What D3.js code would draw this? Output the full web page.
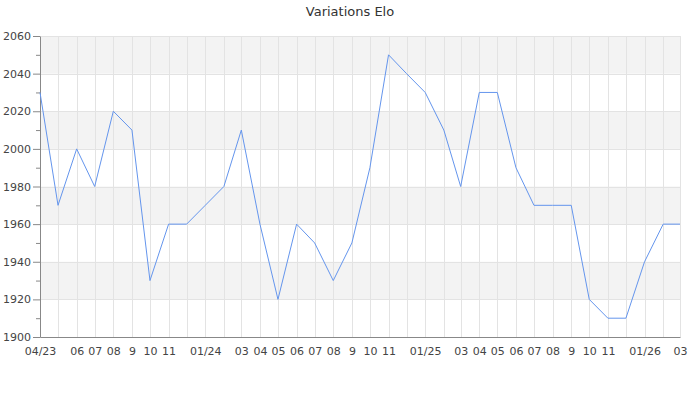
<!DOCTYPE html>
<html lang="fr">
<head>
<meta charset="utf-8">
<title>Variations Elo</title>
<style>
	body { margin: 0; background: #fff; }
	svg { display: block; font-family: "DejaVu Sans", sans-serif; }
</style>
</head>
<body>
<script src="https://cdn.jsdelivr.net/npm/d3@7"></script>
<script>
	// one point per month, April 2023 to March 2026
	const months = [
		"2023-04", "2023-05", "2023-06", "2023-07", "2023-08", "2023-09", "2023-10", "2023-11", "2023-12",
		"2024-01", "2024-02", "2024-03", "2024-04", "2024-05", "2024-06", "2024-07", "2024-08", "2024-09",
		"2024-10", "2024-11", "2024-12", "2025-01", "2025-02", "2025-03", "2025-04", "2025-05", "2025-06",
		"2025-07", "2025-08", "2025-09", "2025-10", "2025-11", "2025-12", "2026-01", "2026-02", "2026-03"
	];
	const elo = [
		2030, 1970, 2000, 1980, 2020, 2010, 1930, 1960, 1960,
		1970, 1980, 2010, 1960, 1920, 1960, 1950, 1930, 1950,
		1990, 2050, 2040, 2030, 2010, 1980, 2030, 2030, 1990,
		1970, 1970, 1970, 1920, 1910, 1910, 1940, 1960, 1960
	];
	// labels shown under the axis (others are hidden for lack of room)
	const tickLabels = {
		"2023-04": "04/23", "2023-06": "06", "2023-07": "07", "2023-08": "08", "2023-09": "9",
		"2023-10": "10", "2023-11": "11", "2024-01": "01/24", "2024-03": "03", "2024-04": "04",
		"2024-05": "05", "2024-06": "06", "2024-07": "07", "2024-08": "08", "2024-09": "9",
		"2024-10": "10", "2024-11": "11", "2025-01": "01/25", "2025-03": "03", "2025-04": "04",
		"2025-05": "05", "2025-06": "06", "2025-07": "07", "2025-08": "08", "2025-09": "9",
		"2025-10": "10", "2025-11": "11", "2026-01": "01/26", "2026-03": "03"
	};
	const yTicks = [1900, 1920, 1940, 1960, 1980, 2000, 2020, 2040, 2060];
	const yMinor = [1910, 1930, 1950, 1970, 1990, 2010, 2030, 2050];

	const width = 700, height = 400;
	const margin = { top: 36, right: 20, bottom: 63, left: 40 };
	const parse = d3.utcParse("%Y-%m");
	const data = months.map((m, i) => ({ key: m, date: parse(m), value: elo[i] }));

	const x = d3.scaleUtc()
		.domain(d3.extent(data, d => d.date))
		.range([margin.left, width - margin.right]);
	const y = d3.scaleLinear()
		.domain([1900, 2060])
		.range([height - margin.bottom, margin.top]);

	const svg = d3.select("body").append("svg")
		.attr("width", width)
		.attr("height", height);

	// alternating bands
	svg.append("g")
		.selectAll("rect")
		.data(d3.pairs(yTicks).filter((p, i) => i % 2 === 1))
		.join("rect")
		.attr("x", margin.left)
		.attr("width", width - margin.right - margin.left)
		.attr("y", d => y(d[1]))
		.attr("height", d => y(d[0]) - y(d[1]))
		.attr("fill", "#f3f3f3");

	// grid
	const grid = svg.append("g")
		.attr("stroke", "#e3e3e3")
		.attr("shape-rendering", "crispEdges");
	grid.selectAll(".v")
		.data(data)
		.join("line")
		.attr("x1", d => Math.round(x(d.date)) + 0.5)
		.attr("x2", d => Math.round(x(d.date)) + 0.5)
		.attr("y1", y(2060))
		.attr("y2", y(1900));
	grid.selectAll(".h")
		.data(yTicks)
		.join("line")
		.attr("x1", margin.left)
		.attr("x2", width - margin.right)
		.attr("y1", d => Math.round(y(d)) + 0.5)
		.attr("y2", d => Math.round(y(d)) + 0.5);

	// y axis
	const yAxis = svg.append("g")
		.attr("transform", `translate(${margin.left},0)`)
		.call(d3.axisLeft(y).tickValues(yTicks).tickFormat(d3.format("d"))
			.tickSize(7).tickSizeOuter(0).tickPadding(2));
	yAxis.append("g")
		.call(d3.axisLeft(y).tickValues(yMinor).tickSize(4).tickSizeOuter(0).tickFormat(""))
		.select(".domain").remove();
	yAxis.selectAll("path, line").attr("stroke", "#888");
	yAxis.selectAll("text")
		.attr("fill", "#444")
		.attr("font-size", 11)
		.attr("font-family", "DejaVu Sans");

	// x axis
	const xAxis = svg.append("g")
		.attr("transform", `translate(0,${height - margin.bottom})`)
		.call(d3.axisBottom(x)
			.tickValues(data.map(d => d.date))
			.tickSize(0)
			.tickSizeOuter(0)
			.tickPadding(10)
			.tickFormat(d => tickLabels[d3.utcFormat("%Y-%m")(d)] || ""));
	xAxis.select(".domain").attr("stroke", "#888");
	xAxis.selectAll("text")
		.attr("fill", "#444")
		.attr("font-size", 11)
		.attr("font-family", "DejaVu Sans");

	// line
	svg.append("path")
		.datum(data)
		.attr("fill", "none")
		.attr("stroke", "#6495ed")
		.attr("stroke-width", 1)
		.attr("d", d3.line().x(d => x(d.date)).y(d => y(d.value)));

	// title
	svg.append("text")
		.attr("x", width / 2)
		.attr("y", 16)
		.attr("text-anchor", "middle")
		.attr("fill", "#333")
		.attr("font-size", 13)
		.text("Variations Elo");
</script>
</body>
</html>
